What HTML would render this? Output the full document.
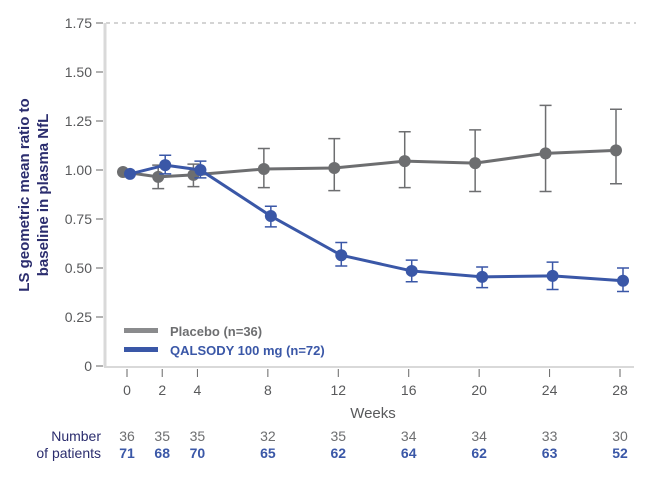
<!DOCTYPE html>
<html><head><meta charset="utf-8"><style>
body{margin:0;background:#fff}
svg{font-family:"Liberation Sans",sans-serif}
</style></head><body>
<svg id="chart" width="660" height="477" viewBox="0 0 660 477" xmlns="http://www.w3.org/2000/svg">
<g id="axes"></g>
<g id="series"></g>
<text transform="translate(32,195) rotate(-90)" text-anchor="middle" font-size="15" font-weight="bold" fill="#2b2d6e"><tspan x="0" dy="-3">LS geometric mean ratio to</tspan><tspan x="0" dy="19">baseline in plasma NfL</tspan></text>
<text x="373" y="418" text-anchor="middle" font-size="15" fill="#58595b">Weeks</text>
<text x="101" y="441" text-anchor="end" font-size="14" fill="#2b2d6e">Number</text>
<text x="101" y="458" text-anchor="end" font-size="14" fill="#2b2d6e">of patients</text>
<g>
<rect x="124" y="328" width="34" height="5" fill="#8a8b8d"/>
<text x="170" y="336" font-size="13" font-weight="bold" fill="#6d6e70">Placebo (n=36)</text>
<rect x="124" y="347" width="34" height="5" fill="#3a57a7"/>
<text x="170" y="355" font-size="13" font-weight="bold" fill="#3a57a7">QALSODY 100 mg (n=72)</text>
</g>
</svg>
<script>
const weeks=[0,2,4,8,12,16,20,24,28];
const yTicks=[0,0.25,0.5,0.75,1,1.25,1.5,1.75];
const yTickLabels=["0","0.25","0.50","0.75","1.00","1.25","1.50","1.75"];
const placebo=[0.99,0.965,0.975,1.005,1.01,1.045,1.035,1.085,1.10];
const placeboLo=[0.99,0.905,0.915,0.91,0.895,0.91,0.89,0.89,0.93];
const placeboHi=[0.99,1.025,1.03,1.11,1.16,1.195,1.205,1.33,1.31];
const qalsody=[0.98,1.025,1.00,0.765,0.565,0.485,0.455,0.46,0.435];
const qalsodyLo=[0.98,0.98,0.96,0.71,0.51,0.43,0.40,0.39,0.38];
const qalsodyHi=[0.98,1.075,1.045,0.815,0.63,0.54,0.505,0.53,0.50];
const nPlacebo=["36","35","35","32","35","34","34","33","30"];
const nQalsody=["71","68","70","65","62","64","62","63","52"];
const NS="http://www.w3.org/2000/svg";
const X=w=>127+w*(493/28);
const Y=v=>366-v*196;
function mk(p,tag,a){const e=document.createElementNS(NS,tag);for(const k in a)e.setAttribute(k,a[k]);p.appendChild(e);return e;}
const axes=document.getElementById('axes'),ser=document.getElementById('series');
let l=mk(axes,'line',{x1:X(0)-21,y1:Y(1.75),x2:636,y2:Y(1.75),stroke:'#aaa','stroke-dasharray':'4 4'});


l=mk(axes,'line',{x1:105,y1:Y(1.75),x2:105,y2:Y(0)+1,stroke:'#d9d9d9','stroke-width':3});


l=mk(axes,'line',{x1:104,y1:Y(0)+1,x2:634,y2:Y(0)+1,stroke:'#d9d9d9','stroke-width':2});


yTicks.forEach((v,i)=>{
 const t=mk(axes,'line',{x1:96,y1:Y(v),x2:103,y2:Y(v),stroke:'#666'});
 
 
 const tx=mk(axes,'text',{x:92,y:Y(v)+5,'text-anchor':'end','font-size':14,fill:'#58595b'});
 tx.textContent=yTickLabels[i];
 
 
});
weeks.forEach((w,i)=>{
 const t=mk(axes,'line',{x1:X(w),y1:Y(0)+3,x2:X(w),y2:Y(0)+11,stroke:'#666'});
 
 
 const tx=mk(axes,'text',{x:X(w),y:395,'text-anchor':'middle','font-size':14,fill:'#58595b'});
 tx.textContent=w;
 
 
 const a=mk(axes,'text',{x:X(w),y:441,'text-anchor':'middle','font-size':14,fill:'#6d6e70'});
 a.textContent=nPlacebo[i];
 
 
 const b=mk(axes,'text',{x:X(w),y:458,'text-anchor':'middle','font-size':14,'font-weight':'bold',fill:'#3a57a7'});
 b.textContent=nQalsody[i];
 
 
});
function draw(vals,lo,hi,col,off,name){
 const g=mk(ser,'g',{});
 
 
 const pl=mk(g,'polyline',{points:weeks.map((w,i)=>(X(w)+off)+','+Y(vals[i])).join(' '),fill:'none',stroke:col,'stroke-width':3});
 
 
 weeks.forEach((w,i)=>{
  const x=X(w)+off;
  if(hi[i]!==lo[i]){
   const e=mk(g,'path',{d:`M${x},${Y(lo[i])}V${Y(hi[i])}M${x-6},${Y(lo[i])}h12M${x-6},${Y(hi[i])}h12`,stroke:col,'stroke-width':1.5,fill:'none'});
   
   
  }
  const c=mk(g,'circle',{cx:x,cy:Y(vals[i]),r:6,fill:col});
  
  
 });
}
draw(placebo,placeboLo,placeboHi,'#6d6e70',-4,'placebo');
draw(qalsody,qalsodyLo,qalsodyHi,'#3a57a7',3,'qalsody');
</script>
</body></html>
